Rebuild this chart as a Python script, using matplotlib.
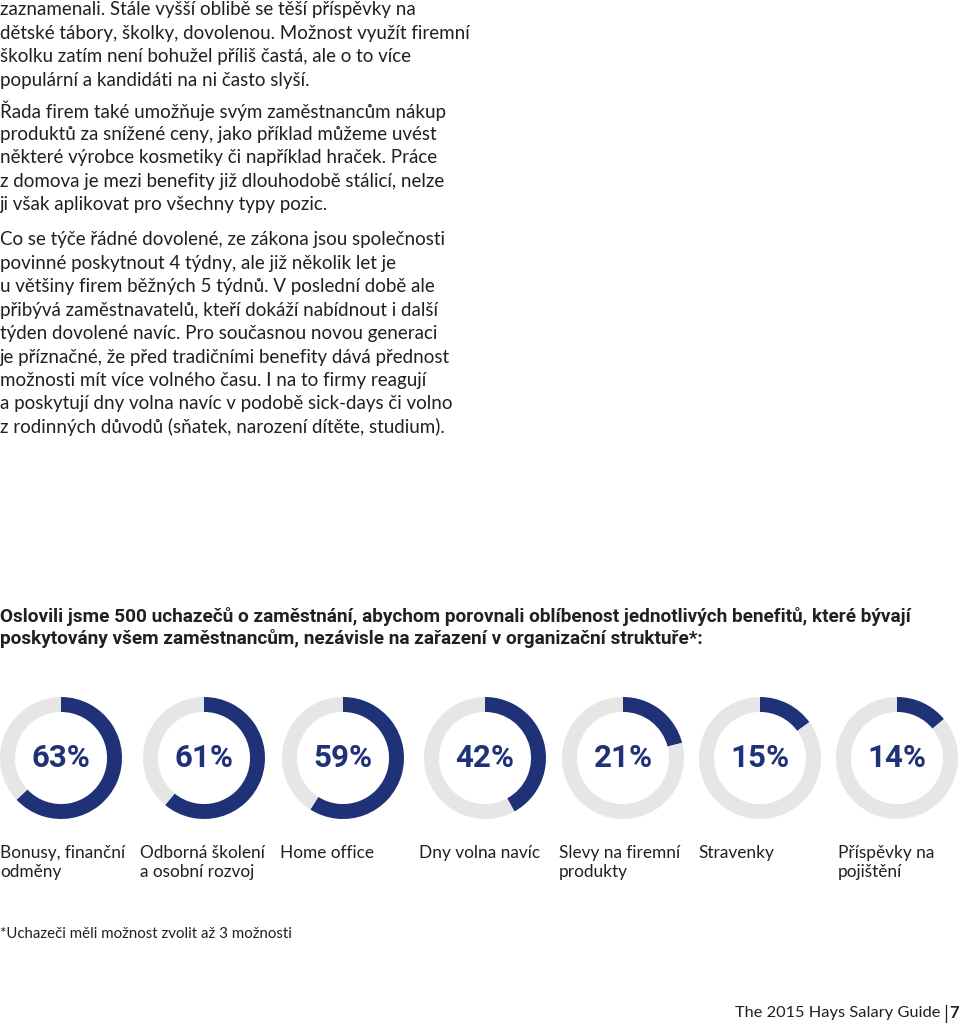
import matplotlib.pyplot as plt

W, H = 960, 1023

para1 = ["zaznamenali. Stále vyšší oblibě se těší příspěvky na",
         "dětské tábory, školky, dovolenou. Možnost využít firemní",
         "školku zatím není bohužel příliš častá, ale o to více",
         "populární a kandidáti na ni často slyší."]
para2 = ["Řada firem také umožňuje svým zaměstnancům nákup",
         "produktů za snížené ceny, jako příklad můžeme uvést",
         "některé výrobce kosmetiky či například hraček. Práce",
         "z domova je mezi benefity již dlouhodobě stálicí, nelze",
         "ji však aplikovat pro všechny typy pozic."]
para3 = ["Co se týče řádné dovolené, ze zákona jsou společnosti",
         "povinné poskytnout 4 týdny, ale již několik let je",
         "u většiny firem běžných 5 týdnů. V poslední době ale",
         "přibývá zaměstnavatelů, kteří dokáží nabídnout i další",
         "týden dovolené navíc. Pro současnou novou generaci",
         "je příznačné, že před tradičními benefity dává přednost",
         "možnosti mít více volného času. I na to firmy reagují",
         "a poskytují dny volna navíc v podobě sick-days či volno",
         "z rodinných důvodů (sňatek, narození dítěte, studium)."]
heading = ["Oslovili jsme 500 uchazečů o zaměstnání, abychom porovnali oblíbenost jednotlivých benefitů, které bývají",
           "poskytovány všem zaměstnancům, nezávisle na zařazení v organizační struktuře*:"]

percents = [63, 61, 59, 42, 21, 15, 14]
benefits = ["Bonusy, finanční\nodměny", "Odborná školení\na osobní rozvoj", "Home office",
            "Dny volna navíc", "Slevy na firemní\nprodukty", "Stravenky", "Příspěvky na\npojištění"]
footnote = "*Uchazeči měli možnost zvolit až 3 možnosti"

navy = "#1f3278"
grey = "#e6e6e6"
ink = "#231f20"
body_font = "Lato"

# layout in pixels
centers_x = [61, 204, 343, 485, 623, 760, 897]
center_y = 758
radius_px = 61
label_x = [0, 140, 280, 419, 559, 698, 838]


def fx(x):
    return x / W


def fy(y):
    return 1 - y / H


fig = plt.figure(figsize=(W / 100, H / 100), dpi=100)
fig.patch.set_facecolor("white")

# body paragraphs
pitch = 23.4
for lines, y0 in [(para1, 10), (para2, 111), (para3, 240)]:
    for i, line in enumerate(lines):
        fig.text(fx(0), fy(y0 + i * pitch), line, fontsize=13.5, family=body_font,
                 color=ink, va="center", ha="left")

# heading
for i, line in enumerate(heading):
    fig.text(fx(0), fy(617 + i * 21.5), line, fontsize=13.7, family="Roboto",
             fontweight="bold", color=ink, va="center", ha="left")

# donuts
lim = 1.02
for cx, p in zip(centers_x, percents):
    size = 2 * radius_px * lim
    ax = fig.add_axes([fx(cx - size / 2), fy(center_y + size / 2), size / W, size / H])
    ax.pie([p, 100 - p], startangle=90, counterclock=False, colors=[navy, grey],
           wedgeprops=dict(width=0.245, linewidth=0))
    ax.set_xlim(-lim, lim)
    ax.set_ylim(-lim, lim)
    ax.set_aspect("equal")
    ax.axis("off")
    ax.text(0, 0, f"{p}%", ha="center", va="center", fontsize=22.5, family="Roboto",
            fontweight="bold", color=navy)

# labels
for x, lab in zip(label_x, benefits):
    fig.text(fx(x), fy(845), lab, fontsize=12.4, family=body_font, color=ink,
             va="top", ha="left", linespacing=1.25)

fig.text(fx(0), fy(934), footnote, fontsize=10.8, family=body_font, color=ink,
         va="center", ha="left")

# footer
fig.text(fx(940), fy(1013), "The 2015 Hays Salary Guide", fontsize=11.8, family=body_font,
         color=ink, va="center", ha="right")
fig.add_artist(plt.Line2D([fx(946), fx(946)], [fy(1005), fy(1022)], color=ink, linewidth=0.9))
fig.text(fx(949), fy(1013), "7", fontsize=12, family=body_font, fontweight="bold",
         color=ink, va="center", ha="left")

fig.savefig("out.png", dpi=100, facecolor="white")
